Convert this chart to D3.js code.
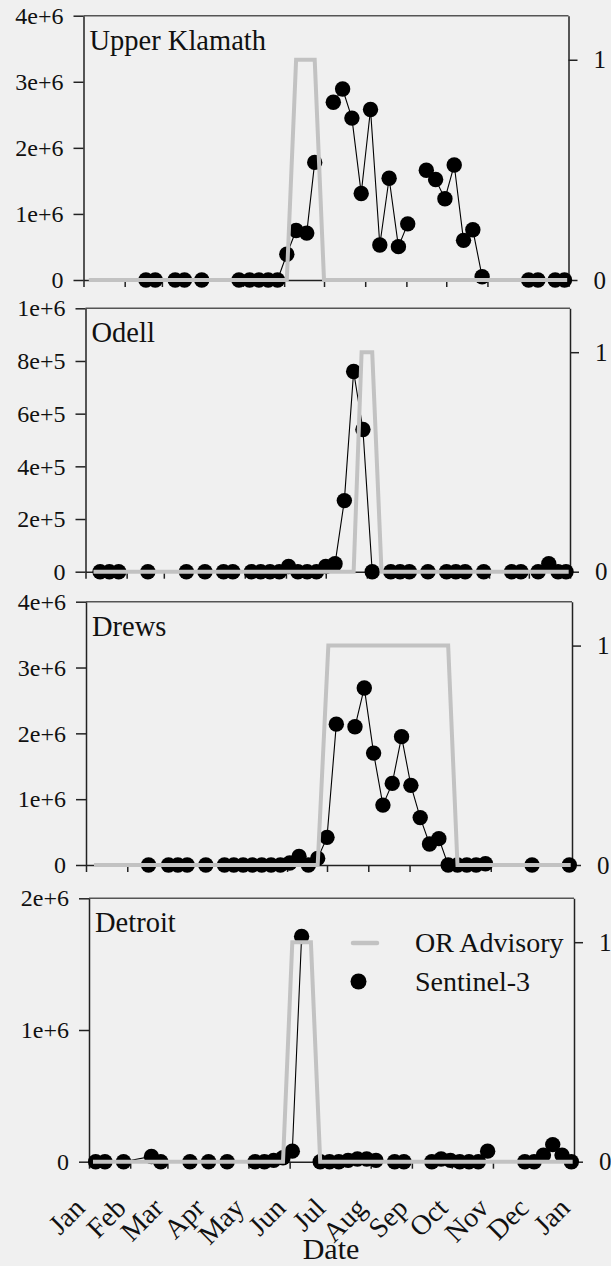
<!DOCTYPE html>
<html><head><meta charset="utf-8">
<script src="https://cdn.jsdelivr.net/npm/d3@7"></script>
<style>
html,body{margin:0;padding:0;background:#f0f0f0;}
svg{display:block;}
text{font-family:"Liberation Serif","Times New Roman",serif;fill:#111;}
</style></head>
<body><svg id="c" width="611" height="1266"></svg>
<script>
// ---------- data ----------
const year = "2019";
const monthLabels = ["Jan","Feb","Mar","Apr","May","Jun","Jul","Aug","Sep","Oct","Nov","Dec","Jan"];
const panelNames = ["Upper Klamath","Odell","Drews","Detroit"];
const yMax = [4e6, 1e6, 4e6, 2e6];
const yTicksUK = [0, 1e6, 2e6, 3e6, 4e6];
const yTicksOD = [0, 2e5, 4e5, 6e5, 8e5, 1e6];
const yTicksDR = [0, 1e6, 2e6, 3e6, 4e6];
const yTicksDE = [0, 1e6, 2e6];
const rightTicks = [0, 1];
const legendLabels = ["OR Advisory", "Sentinel-3"];
const xTitle = "Date";

// Sentinel-3 (null = gap in line)
const ukDates = ["02-17","02-24","03-11","03-18","03-31","04-28","05-06","05-13","05-20","05-27","06-03","06-10","06-18","06-24","07-01","07-08","07-15","07-22","07-29","08-05","08-12","08-19","08-26","09-02","09-09","09-16","09-23","09-30","10-07","10-14","10-21","10-28","11-15","12-02","12-09","12-22","12-29"];
const ukValues = [0,0,0,0,0,0,0,0,0,0,0.39e6,0.75e6,0.71e6,1.78e6,null,2.69e6,2.89e6,2.45e6,1.31e6,2.58e6,0.53e6,1.54e6,0.505e6,0.85e6,null,1.66e6,1.52e6,1.23e6,1.74e6,0.6e6,0.76e6,0.05e6,null,0,0,0,0];

const odDates = ["01-12","01-19","01-26","02-17","03-18","04-01","04-15","04-22","05-06","05-13","05-20","05-27","06-03","06-10","06-17","06-24","07-01","07-08","07-15","07-22","07-29","08-05","08-19","08-26","09-02","09-16","09-30","10-07","10-14","10-28","11-18","11-25","12-08","12-16","12-23","12-29"];
const odValues = [0,0,0,0,0,0,0,0,0,0,0,0,0.02e6,0,0,0,0.02e6,0.03e6,0.27e6,0.76e6,0.54e6,0,0,0,0,0,0,0,0,0,0,0,0,0.03e6,0,0];

const drDates = ["02-17","03-04","03-11","03-18","04-01","04-15","04-22","04-29","05-06","05-13","05-20","05-27","06-03","06-10","06-17","06-24","07-01","07-08","07-15","07-22","07-29","08-05","08-12","08-19","08-26","09-02","09-09","09-16","09-23","09-30","10-07","10-14","10-21","10-28","11-15","12-02","12-30"];
const drValues = [0,0,0,0,0,0,0,0,0,0,0,0,0.03e6,0.13e6,0,0.1e6,0.42e6,2.14e6,null,2.1e6,2.69e6,1.70e6,0.91e6,1.24e6,1.95e6,1.21e6,0.72e6,0.32e6,0.40e6,0,0,0,0,0.02e6,null,0,0];

const deDates = ["01-06","01-13","01-27","02-17","02-24","03-18","04-01","04-15","05-06","05-13","05-20","05-27","06-03","06-10","06-17","06-24","07-01","07-08","07-15","07-22","07-29","08-05","08-19","08-26","09-16","09-23","09-30","10-07","10-14","10-21","10-28","11-11","11-25","12-02","12-09","12-16","12-23","12-30"];
const deValues = [0,0,0,0.04e6,0,0,0,0,0,0,0.01e6,0.03e6,0.08e6,1.71e6,null,0,0,0,0.01e6,0.02e6,0.02e6,0.01e6,0,0,0,0.02e6,0.01e6,0,0,0,0.08e6,null,0,0,0.05e6,0.13e6,0.05e6,0];

// OR Advisory (0/1)
const ukAdvDates = ["01-05","06-03","06-10","06-24","07-01","12-31"];
const ukAdvValues = [0,0,1,1,0,0];
const odAdvDates = ["01-07","07-22","07-28","08-05","08-12","12-31"];
const odAdvValues = [0,0,1,1,0,0];
const drAdvDates = ["01-07","06-24","07-02","09-30","10-07","12-31"];
const drAdvValues = [0,0,1,1,0,0];
const deAdvDates = ["01-04","05-27","06-03","06-17","06-24","12-31"];
const deAdvValues = [0,0,1,1,0,0];

// ---------- layout ----------
const parse = d3.timeParse("%Y-%m-%d");
const pd = s => parse(year + "-" + s);
const panels = [
  {name: panelNames[0], ymax: yMax[0], ticks: yTicksUK, dates: ukDates, vals: ukValues, adates: ukAdvDates, avals: ukAdvValues, left: 83.5, right: 568.5, top: 15.7, bottom: 280},
  {name: panelNames[1], ymax: yMax[1], ticks: yTicksOD, dates: odDates, vals: odValues, adates: odAdvDates, avals: odAdvValues, left: 85.5, right: 570, top: 308.3, bottom: 571.7},
  {name: panelNames[2], ymax: yMax[2], ticks: yTicksDR, dates: drDates, vals: drValues, adates: drAdvDates, avals: drAdvValues, left: 86, right: 572, top: 601.7, bottom: 865},
  {name: panelNames[3], ymax: yMax[3], ticks: yTicksDE, dates: deDates, vals: deValues, adates: deAdvDates, avals: deAdvValues, left: 89, right: 574, top: 898.3, bottom: 1161.7}
];

const svg = d3.select("#c");
svg.append("rect").attr("width",611).attr("height",1266).attr("fill","#f0f0f0");
const expFmt = v => v === 0 ? "0" : d3.format(".0e")(v);

panels.forEach((p, i) => {
  const x = d3.scaleTime().domain([pd("01-01"), parse((+year+1)+"-01-01")]).range([p.left, p.right]);
  const y = d3.scaleLinear().domain([0, p.ymax]).range([p.bottom, p.top]);
  const y2 = d3.scaleLinear().domain([0, 1.2]).range([p.bottom, p.top]);
  const g = svg.append("g");

  // top frame
  g.append("line").attr("x1", p.left).attr("x2", p.right).attr("y1", p.top).attr("y2", p.top)
    .attr("stroke", "#555").attr("stroke-width", 1.5);

  // left axis
  const la = g.append("g").attr("transform", `translate(${p.left},0)`)
    .call(d3.axisLeft(y).tickValues(p.ticks).tickSize(10).tickSizeOuter(0).tickPadding(10).tickFormat(expFmt));
  la.selectAll("path,line").attr("stroke", "#222").attr("stroke-width", 1.5);
  la.selectAll("text").attr("font-size", 24).attr("font-family", "Liberation Serif").attr("fill", "#111");

  // right axis
  const ra = g.append("g").attr("transform", `translate(${p.right},0)`)
    .call(d3.axisRight(y2).tickValues(rightTicks).tickSize(9).tickSizeOuter(0).tickPadding(16).tickFormat(d3.format("d")));
  ra.selectAll("path,line").attr("stroke", "#222").attr("stroke-width", 1.5);
  ra.selectAll("text").attr("font-size", 25).attr("font-family", "Liberation Serif").attr("fill", "#111");

  // bottom axis
  const ba = g.append("g").attr("transform", `translate(0,${p.bottom})`)
    .call(d3.axisBottom(x).ticks(d3.timeMonth.every(1)).tickSize(7).tickSizeOuter(0)
      .tickFormat(i === 3 ? ((d, k) => monthLabels[k]) : () => ""));
  ba.selectAll("path,line").attr("stroke", "#222").attr("stroke-width", 1.5);
  if (i === 3) {
    ba.selectAll("text").attr("font-size", 28).attr("font-family", "Liberation Serif").attr("fill", "#111")
      .attr("text-anchor", "end").attr("x", 0).attr("y", 0).attr("dy", 0)
      .attr("transform", "translate(-3,48) rotate(-45)");
  }

  // Sentinel line & points
  const pts = p.dates.map((d, k) => ({date: pd(d), v: p.vals[k]}));
  g.append("path").datum(pts)
    .attr("d", d3.line().defined(d => d.v !== null).x(d => x(d.date)).y(d => y(d.v)))
    .attr("fill", "none").attr("stroke", "#000").attr("stroke-width", 1.1);
  g.selectAll("circle.pt").data(pts.filter(d => d.v !== null)).join("circle")
    .attr("cx", d => x(d.date)).attr("cy", d => y(d.v)).attr("r", 7.7).attr("fill", "#000");

  // OR advisory
  const adv = p.adates.map((d, k) => ({date: pd(d), v: p.avals[k]}));
  g.append("path").datum(adv)
    .attr("d", d3.line().x(d => x(d.date)).y(d => y2(d.v)))
    .attr("fill", "none").attr("stroke", "#c2c2c2").attr("stroke-width", 4).attr("stroke-linejoin", "miter");

  // title
  g.append("text").attr("x", p.left + 6).attr("y", p.top + 34).attr("font-size", 28.5).text(p.name);

  if (i === 3) {
    // legend
    const lg = svg.append("g");
    lg.append("line").attr("x1", 353).attr("x2", 377).attr("y1", 943).attr("y2", 943)
      .attr("stroke", "#c2c2c2").attr("stroke-width", 4.5).attr("stroke-linecap", "round");
    lg.append("text").attr("x", 415).attr("y", 952).attr("font-size", 28).text(legendLabels[0]);
    lg.append("circle").attr("cx", 358.5).attr("cy", 981.5).attr("r", 8).attr("fill", "#000");
    lg.append("text").attr("x", 415).attr("y", 991).attr("font-size", 28).text(legendLabels[1]);
    // x title
    svg.append("text").attr("x", 331).attr("y", 1259).attr("text-anchor", "middle").attr("font-size", 30).text(xTitle);
  }
});
</script></body></html>
